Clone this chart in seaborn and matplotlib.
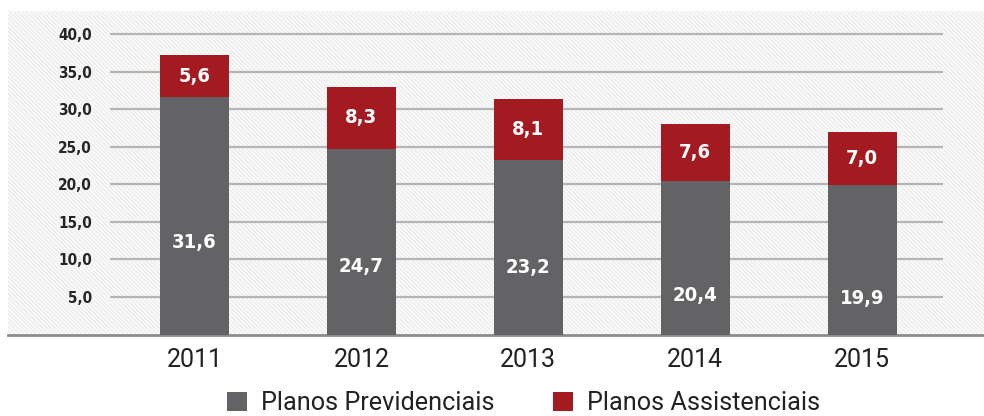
import matplotlib
matplotlib.use("Agg")
import matplotlib.pyplot as plt
import seaborn as sns
import pandas as pd
from matplotlib.patches import Rectangle, Patch

years = ["2011", "2012", "2013", "2014", "2015"]
previdenciais = [31.6, 24.7, 23.2, 20.4, 19.9]
assistenciais = [5.6, 8.3, 8.1, 7.6, 7.0]
yticks = [5, 10, 15, 20, 25, 30, 35, 40]
ytick_labels = ["5,0", "10,0", "15,0", "20,0", "25,0", "30,0", "35,0", "40,0"]
series_names = ["Planos Previdenciais", "Planos Assistenciais"]

# label heights inside the gray segments (as drawn in the reference)
gray_label_y = [12.2, 9.1, 8.9, 5.2, 4.8]

GRAY = "#636365"
RED = "#a31b20"

sns.set_theme(style="white")
plt.rcParams["font.family"] = ["Roboto", "DejaVu Sans"]
plt.rcParams["hatch.linewidth"] = 0.8

df = pd.DataFrame({"ano": years, "prev": previdenciais, "assist": assistenciais})
df["total"] = df["prev"] + df["assist"]

fig = plt.figure(figsize=(9.84, 4.16), dpi=100)
ax = fig.add_axes([8 / 984, 1 - 334.6 / 416, 976 / 984, (334.6 - 11) / 416])

# hatched light background
ax.set_facecolor("#eeeeef")
bg = Rectangle((0, 0), 1, 1, transform=ax.transAxes, facecolor="none",
               edgecolor="white", hatch="\\\\\\\\\\\\\\\\", linewidth=0, zorder=0)
ax.add_patch(bg)

xmin, xmax = -1.117, 4.730
ax.hlines(yticks, -0.506, 4.485, colors="#b5b5b8", linewidth=1.6, zorder=1)

sns.barplot(data=df, x="ano", y="total", color=RED, width=0.413, saturation=1,
            ax=ax, zorder=2, edgecolor="none")
sns.barplot(data=df, x="ano", y="prev", color=GRAY, width=0.413, saturation=1,
            ax=ax, zorder=3, edgecolor="none")

num_kw = dict(family=["DejaVu Sans"], fontstretch="condensed", fontweight="bold")
for i, (p, a) in enumerate(zip(previdenciais, assistenciais)):
    ax.text(i, p + a / 2, f"{a:.1f}".replace(".", ","), ha="center", va="center",
            color="white", fontsize=14.5, zorder=5, **num_kw)
    ax.text(i, gray_label_y[i], f"{p:.1f}".replace(".", ","), ha="center", va="center",
            color="white", fontsize=14.5, zorder=5, **num_kw)

ax.set_xlim(xmin, xmax)
ax.set_ylim(0, (334.6 - 11) / 7.514)
ax.set_yticks(yticks)
ax.set_yticklabels(ytick_labels, fontsize=11, color="#262626", **num_kw)
ax.tick_params(axis="y", length=0, pad=-84 * 0.72)
ax.tick_params(axis="x", length=0, pad=10, labelsize=18, labelcolor="#222222")
ax.set_xlabel("")
ax.set_ylabel("")
for s in ["top", "left", "right"]:
    ax.spines[s].set_visible(False)
ax.spines["bottom"].set_color("#8c8c8c")
ax.spines["bottom"].set_linewidth(2)
ax.grid(False)

handles = [Patch(facecolor=GRAY, edgecolor="none"), Patch(facecolor=RED, edgecolor="none")]
fig.legend(handles, series_names, loc="center", bbox_to_anchor=(523.5 / 984, 1 - 403 / 416),
           ncol=2, frameon=False, fontsize=18.2, handlelength=0.8, handleheight=0.8,
           handletextpad=0.55, columnspacing=2.3, labelcolor="#222222")

fig.savefig("out.png", dpi=100)
